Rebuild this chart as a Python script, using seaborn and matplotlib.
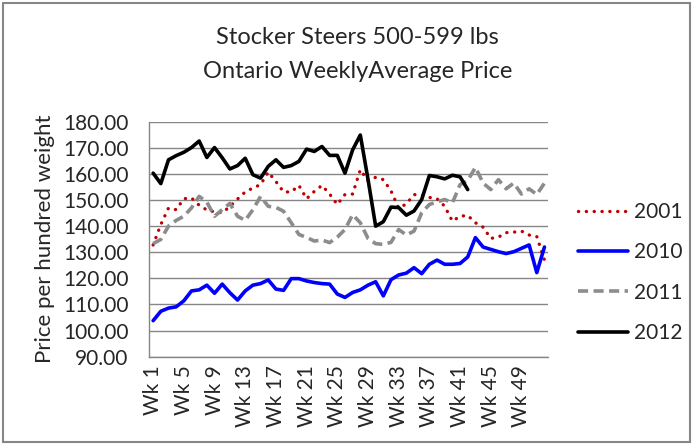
import matplotlib
matplotlib.use("Agg")
import matplotlib.pyplot as plt
import seaborn as sns
import numpy as np
import pandas as pd
from matplotlib.lines import Line2D

# weekly average prices
weeks = [f"Wk {i}" for i in range(1, 53)]
price_2001 = [
    132.8, 140.6, 146.9, 146.3, 150.5, 150.8, 148.0, 146.2, 145.5, 145.1,
    147.5, 150.4, 153.1, 154.6, 155.9, 160.7, 157.1, 153.1, 153.1, 155.6,
    150.5, 153.3, 155.6, 152.3, 148.3, 152.1, 152.3, 161.6, 157.4, 158.7,
    157.8, 153.5, 146.9, 148.5, 152.1, 151.8, 151.0, 150.5, 147.6, 141.9,
    143.8, 144.1, 141.3, 139.6, 135.3, 135.8, 137.5, 137.7, 138.1, 136.6,
    136.0, 127.0,
]
price_2010 = [
    103.8, 107.4, 108.6, 109.1, 111.4, 115.2, 115.6, 117.4, 114.3, 117.8,
    114.5, 111.7, 115.2, 117.4, 118.0, 119.4, 115.9, 115.4, 119.9, 119.9,
    119.0, 118.4, 118.0, 117.8, 114.0, 112.7, 114.6, 115.6, 117.4, 118.7,
    113.3, 119.5, 121.3, 122.0, 124.1, 121.8, 125.4, 127.0, 125.4, 125.4,
    125.7, 128.2, 135.6, 132.0, 131.1, 130.2, 129.5, 130.2, 131.5, 132.8,
    122.2, 132.0,
]
price_2011 = [
    133.3, 134.9, 140.0, 142.2, 143.8, 147.0, 151.4, 149.2, 143.8, 146.3,
    148.7, 143.8, 142.2, 146.3, 151.4, 147.6, 147.2, 145.7, 141.3, 136.8,
    135.7, 134.3, 134.7, 133.7, 135.8, 138.7, 144.4, 141.3, 135.3, 133.3,
    133.0, 133.8, 138.7, 136.6, 138.1, 145.1, 148.3, 149.3, 150.2, 148.9,
    155.9, 157.5, 162.5, 156.5, 154.0, 157.8, 154.3, 156.5, 152.3, 154.3,
    152.1, 156.5,
]
price_2012 = [
    160.3, 156.3, 165.4, 167.0, 168.3, 170.1, 172.6, 166.3, 170.1, 166.2,
    161.9, 163.2, 166.0, 159.7, 158.4, 162.9, 165.4, 162.5, 163.2, 164.8,
    169.5, 168.6, 170.5, 167.1, 167.1, 160.3, 169.2, 174.9, 158.0, 140.0,
    141.7, 147.3, 147.1, 144.2, 145.8, 150.2, 159.4, 158.9, 158.1, 159.5,
    158.9, 154.0,
]
years = ["2001", "2010", "2011", "2012"]
series = [price_2001, price_2010, price_2011, price_2012]
colors = ["#C00000", "#0000FF", "#8C8C8C", "#000000"]

rows = []
for year, vals in zip(years, series):
    for i, v in enumerate(vals):
        rows.append({"week": i, "year": year, "price": v})
df = pd.DataFrame(rows)

sns.set_style("white")
plt.rcParams["font.family"] = ["Lato", "DejaVu Sans"]

fig = plt.figure(figsize=(6.94, 4.45), dpi=100)
ax = fig.add_axes([149.3 / 694, 1 - 356.7 / 445, 399 / 694, 235 / 445])

styles = {
    "2001": dict(linestyle=(0, (0.05, 2.3)), linewidth=2.4, dash_capstyle="round"),
    "2010": dict(linestyle="-", linewidth=2.6),
    "2011": dict(linestyle=(0, (2.8, 1.5)), linewidth=2.6, dash_capstyle="butt"),
    "2012": dict(linestyle="-", linewidth=2.6),
}
for year, color in zip(years, colors):
    sub = df[df["year"] == year]
    sns.lineplot(data=sub, x="week", y="price", color=color, ax=ax,
                 legend=False, **styles[year])

ax.set_xlim(-0.5, 51.5)
ax.set_ylim(90, 180)
ax.set_yticks(np.arange(90, 181, 10))
ax.set_yticklabels([f"{v:.2f}" for v in np.arange(90, 181, 10)], fontsize=15)
ax.set_xticks(range(0, 52, 4))
ax.set_xticklabels(weeks[::4], rotation=90, fontsize=15)
ax.set_xticks(np.arange(-0.5, 52, 1), minor=True)
ax.tick_params(axis="x", which="major", length=0, pad=6)
ax.tick_params(axis="x", which="minor", length=5, color="#868686", width=1)
ax.tick_params(axis="y", length=6, color="#868686", width=1, pad=9)
ax.grid(axis="y", color="#868686", linewidth=1)
ax.set_axisbelow(True)
for side in ["top", "right"]:
    ax.spines[side].set_visible(False)
for side in ["left", "bottom"]:
    ax.spines[side].set_color("#868686")
    ax.spines[side].set_linewidth(1)
ax.set_xlabel("")
ax.set_ylabel("Price per hundred weight", fontsize=16, labelpad=6)

fig.text(0.515, 0.915, "Stocker Steers 500-599 lbs", ha="center", va="center",
         fontsize=17)
fig.text(0.515, 0.84, "Ontario WeeklyAverage Price", ha="center", va="center",
         fontsize=17)

handles = [Line2D([], [], color=c, **styles[y]) for y, c in zip(years, colors)]
fig.legend(handles, years, loc="center left", bbox_to_anchor=(578 / 694, 1 - 272.5 / 445),
           frameon=False, fontsize=15, handlelength=2.4, handletextpad=0.3,
           labelspacing=0.98, borderpad=0, borderaxespad=0)

fig.patches.append(plt.Rectangle((0.004, 0.006), 0.99, 0.988, transform=fig.transFigure,
                                 fill=False, edgecolor="#868686", linewidth=1.5))

fig.savefig("out.png", dpi=100)
